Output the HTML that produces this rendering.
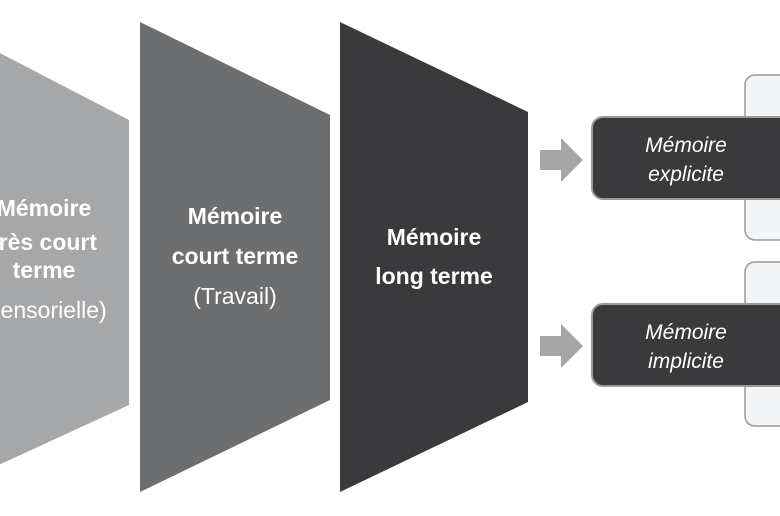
<!DOCTYPE html>
<html><head><meta charset="utf-8"><style>
html,body{margin:0;padding:0;background:#fff;width:780px;height:516px;overflow:hidden}
svg text{font-family:"Liberation Sans",sans-serif}
</style></head><body>
<svg width="780" height="516" viewBox="0 0 780 516" xmlns="http://www.w3.org/2000/svg">
<polygon points="-60,22 129,120 129,405 -60,492" fill="#a6a7a9"/>
<polygon points="140,22 330,115 330,400 140,492" fill="#6d6e70"/>
<polygon points="340,22 528,112 528,402 340,492" fill="#3a3a3c"/>
<g fill="#fff" text-anchor="middle" font-size="23" font-weight="bold">
<text x="44" y="216">Mémoire</text>
<text x="44" y="250">très court</text>
<text x="44" y="278">terme</text>
<text x="44" y="318" font-weight="normal">(sensorielle)</text>
<text x="235" y="224">Mémoire</text>
<text x="235" y="264">court terme</text>
<text x="235" y="304" font-weight="normal">(Travail)</text>
<text x="434" y="245">Mémoire</text>
<text x="434" y="284">long terme</text>
</g>
<rect x="745" y="75" width="60" height="165" rx="10" fill="#f4f5f7" stroke="#9a9a9a" stroke-width="1.5"/>
<rect x="745" y="262" width="60" height="164" rx="10" fill="#f4f5f7" stroke="#9a9a9a" stroke-width="1.5"/>
<polygon points="540,150 561,150 561,138 583,160 561,182 561,170 540,170" fill="#a6a6a6"/>
<polygon points="540,336 561,336 561,324 583,346 561,368 561,356 540,356" fill="#a6a6a6"/>
<rect x="592" y="117" width="200" height="82" rx="11" fill="#3a3a3c" stroke="#9a9a9a" stroke-width="2"/>
<rect x="592" y="304" width="200" height="82" rx="11" fill="#3a3a3c" stroke="#9a9a9a" stroke-width="2"/>
<g fill="#fff" text-anchor="middle" font-size="21" font-style="italic">
<text x="686" y="152">Mémoire</text>
<text x="686" y="181">explicite</text>
<text x="686" y="339">Mémoire</text>
<text x="686" y="368">implicite</text>
</g>
</svg>
</body></html>
